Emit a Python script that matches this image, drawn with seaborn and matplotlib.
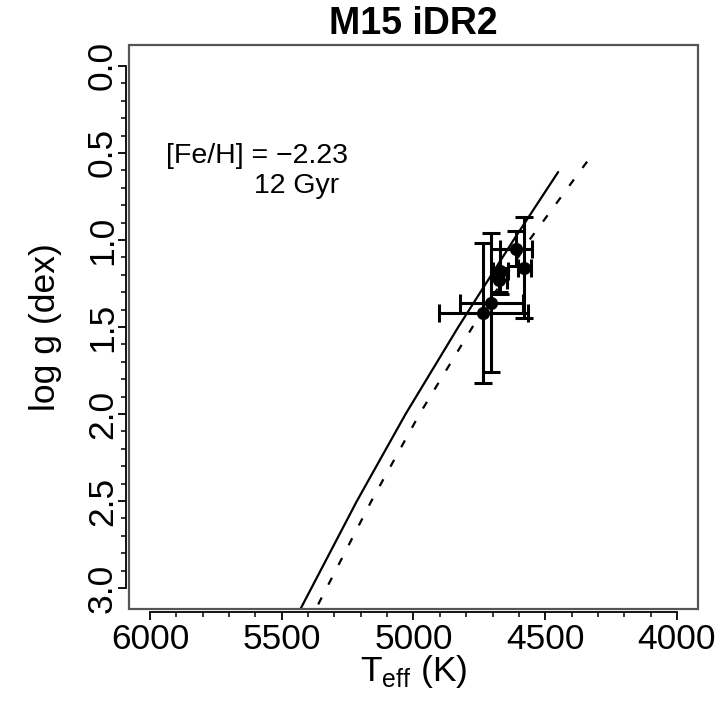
import numpy as np
import pandas as pd
import matplotlib
matplotlib.use("Agg")
import matplotlib.pyplot as plt
import seaborn as sns
from matplotlib.ticker import FixedLocator
from matplotlib.patches import Rectangle

# ---- data ----
title = "M15 iDR2"
annot_feh = "[Fe/H] = \u22122.23"
annot_age = "12 Gyr"

# isochrone (solid) and alternative isochrone (dashed)
iso_logg = [0.61, 1.0, 1.5, 2.0, 2.5, 3.14]
iso_teff = [4451, 4620, 4830, 5030, 5215, 5436]
iso2_logg = [0.55, 1.0, 1.5, 2.0, 2.5, 3.15]
iso2_teff = [4341, 4560, 4776, 4977, 5160, 5381]

# stars
star_teff = [4610, 4580, 4670, 4675, 4705, 4735]
star_logg = [1.05, 1.16, 1.18, 1.23, 1.36, 1.42]
star_teff_err = [60, 25, 30, 30, 120, 170]
star_logg_err = [0.10, 0.29, 0.13, 0.07, 0.40, 0.40]

x_ticks = [6000, 5500, 5000, 4500, 4000]
y_ticks = [0.0, 0.5, 1.0, 1.5, 2.0, 2.5, 3.0]
y_ticklabels = [f"{v:.1f}" for v in y_ticks]

sns.set_theme(style="white")
plt.rcParams['font.family'] = ['Liberation Sans', 'DejaVu Sans']
plt.rcParams['text.color'] = 'black'
plt.rcParams['axes.labelcolor'] = 'black'

fig = plt.figure(figsize=(7.22, 7.02), dpi=100)
ax = fig.add_axes([129/722, 1-609/702, (698-129)/722, (609-45)/702])

iso = pd.DataFrame({"teff": iso_teff, "logg": iso_logg})
iso2 = pd.DataFrame({"teff": iso2_teff, "logg": iso2_logg})
sns.lineplot(data=iso, x="teff", y="logg", sort=False, estimator=None,
             color="black", lw=1.6, ax=ax)
sns.lineplot(data=iso2, x="teff", y="logg", sort=False, estimator=None,
             color="black", lw=1.6, ax=ax, linestyle=(0, (3.5, 6.5)))

ax.errorbar(star_teff, star_logg, xerr=star_teff_err, yerr=star_logg_err,
            fmt="none", ecolor="black", elinewidth=2.2, capsize=6.5, capthick=2.2,
            zorder=3)
stars = pd.DataFrame({"teff": star_teff, "logg": star_logg})
sns.scatterplot(data=stars, x="teff", y="logg", color="black", s=90,
                edgecolor="black", linewidth=0, ax=ax, zorder=4)

ax.set_xlim(6080, 3920)
ax.set_ylim(3.12, -0.12)

ax.xaxis.set_major_locator(FixedLocator(x_ticks))
ax.yaxis.set_major_locator(FixedLocator(y_ticks))
ax.xaxis.set_minor_locator(FixedLocator(np.arange(4000, 6001, 100)))
ax.yaxis.set_minor_locator(FixedLocator(np.arange(0, 3.001, 0.1)))
ax.set_xticklabels([str(v) for v in x_ticks])

ax.tick_params(axis="both", which="major", direction="out", length=6,
               width=1.3, color="black", labelsize=25.5, labelcolor="black",
               bottom=True, left=True)
ax.tick_params(axis="both", which="minor", direction="out", length=3.5,
               width=1.1, color="black", bottom=True, left=True)
ax.tick_params(axis="x", which="major", pad=2)
ax.tick_params(axis="y", which="major", labelleft=False)

# rotated y tick labels (R style, parallel to the axis)
for v, lab in zip(y_ticks, y_ticklabels):
    ax.annotate(lab, xy=(0, v), xycoords=("axes fraction", "data"),
                xytext=(-19, 0), textcoords="offset points",
                rotation=90, rotation_mode="anchor", ha="center", va="center",
                fontsize=25.5, color="black", annotation_clip=False)

for side in ["top", "right"]:
    ax.spines[side].set_visible(False)
for side in ["bottom", "left"]:
    ax.spines[side].set_position(("outward", 2))
    ax.spines[side].set_color("black")
    ax.spines[side].set_linewidth(1.3)
ax.spines["bottom"].set_bounds(4000, 6000)
ax.spines["left"].set_bounds(0, 3)
ax.add_patch(Rectangle((0, 0), 1, 1, transform=ax.transAxes, fill=False,
                       edgecolor="#555555", lw=1.6, clip_on=False, zorder=5))

ax.set_xlabel(r"T$_{\mathregular{eff}}$ (K)", fontsize=25.5, labelpad=-2)
ax.set_ylabel("log g (dex)", fontsize=25.5)
ax.yaxis.set_label_coords(-0.118, 0.5)
ax.set_title(title, fontsize=27, fontweight="bold", pad=8)

ax.text(5595, 0.52, annot_feh, fontsize=20.5, ha="center", va="center")
ax.text(5444, 0.69, annot_age, fontsize=20.5, ha="center", va="center")

fig.savefig("out.png", dpi=100)
